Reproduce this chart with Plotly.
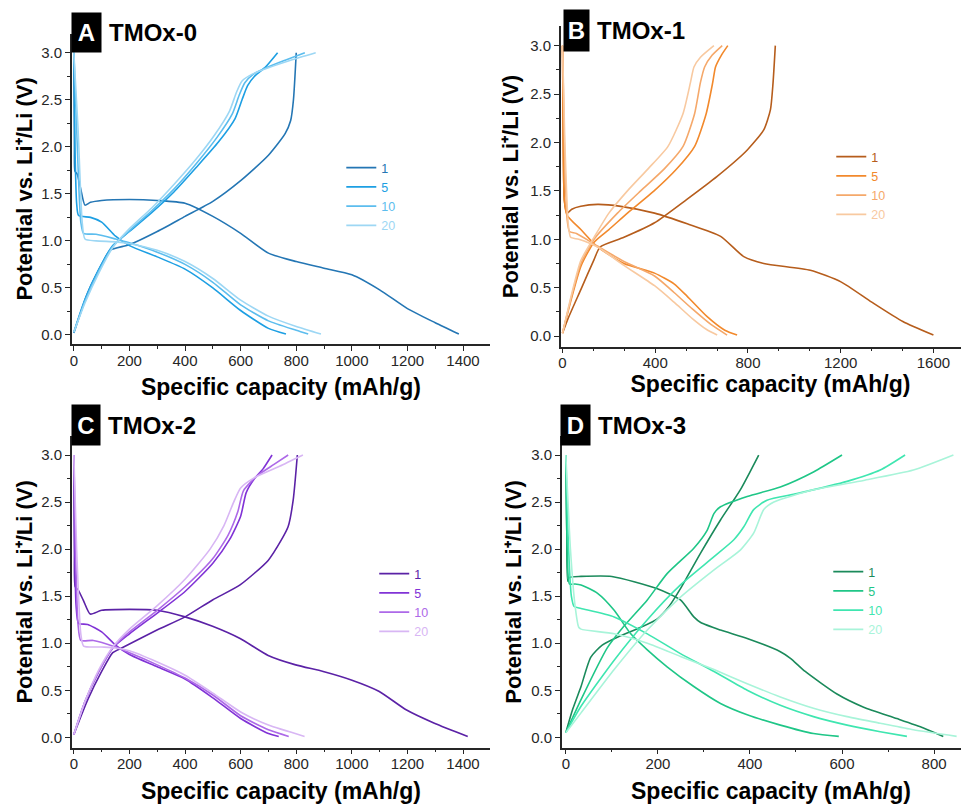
import plotly.graph_objects as go

W, H = 962, 807

# ---------------- data (capacity mAh/g, potential V) ----------------
cycles = ["1", "5", "10", "20"]

# Panel A : TMOx-0
A1_dis_q = [0, 2, 4, 12, 25, 40, 60, 100, 200, 300, 400, 500, 600, 700, 800, 900, 1000, 1100, 1200, 1300, 1385]
A1_dis_v = [3.0, 2.0, 1.74, 1.71, 1.55, 1.38, 1.41, 1.43, 1.44, 1.43, 1.40, 1.26, 1.08, 0.87, 0.78, 0.71, 0.64, 0.48, 0.28, 0.13, 0.01]
A1_chg_q = [0, 20, 50, 100, 130, 200, 300, 400, 500, 600, 700, 760, 780, 790, 800]
A1_chg_v = [0.02, 0.2, 0.45, 0.75, 0.9, 0.96, 1.10, 1.26, 1.42, 1.64, 1.91, 2.14, 2.28, 2.5, 3.0]
A5_dis_q = [0, 4, 10, 17, 60, 100, 150, 200, 300, 400, 500, 600, 700, 763]
A5_dis_v = [3.0, 2.0, 1.4, 1.27, 1.25, 1.2, 1.05, 0.95, 0.83, 0.7, 0.5, 0.26, 0.07, 0.01]
A5_chg_q = [0, 40, 90, 140, 200, 280, 360, 440, 520, 580, 605, 625, 650, 690, 733]
A5_chg_v = [0.03, 0.38, 0.7, 0.95, 1.1, 1.3, 1.52, 1.78, 2.05, 2.3, 2.5, 2.65, 2.75, 2.85, 3.0]
A10_dis_q = [0, 10, 25, 35, 80, 150, 200, 300, 400, 500, 600, 700, 800, 843]
A10_dis_v = [3.0, 2.2, 1.2, 1.08, 1.07, 1.02, 0.98, 0.88, 0.75, 0.56, 0.32, 0.15, 0.05, 0.01]
A10_chg_q = [0, 40, 90, 140, 200, 280, 360, 440, 515, 570, 595, 615, 645, 700, 760, 831]
A10_chg_v = [0.03, 0.36, 0.68, 0.94, 1.11, 1.32, 1.55, 1.82, 2.1, 2.35, 2.55, 2.68, 2.77, 2.85, 2.92, 3.0]
A20_dis_q = [0, 15, 30, 40, 80, 150, 200, 300, 400, 500, 600, 700, 800, 889]
A20_dis_v = [3.0, 2.2, 1.2, 1.02, 1.0, 0.99, 0.97, 0.9, 0.78, 0.6, 0.37, 0.2, 0.09, 0.01]
A20_chg_q = [0, 40, 90, 140, 200, 280, 360, 440, 505, 560, 585, 605, 640, 700, 780, 870]
A20_chg_v = [0.03, 0.34, 0.66, 0.93, 1.13, 1.35, 1.6, 1.87, 2.12, 2.38, 2.58, 2.7, 2.77, 2.84, 2.92, 3.0]

# Panel B : TMOx-1
B1_dis_q = [0, 3, 8, 19, 40, 79, 151, 251, 397, 538, 682, 782, 868, 1069, 1201, 1334, 1468, 1600]
B1_dis_v = [3.0, 2.0, 1.4, 1.27, 1.31, 1.34, 1.36, 1.34, 1.27, 1.16, 1.03, 0.82, 0.75, 0.68, 0.56, 0.35, 0.15, 0.01]
B1_chg_q = [0, 22, 79, 136, 162, 265, 397, 535, 667, 796, 868, 897, 908, 918]
B1_chg_v = [0.03, 0.17, 0.48, 0.79, 0.92, 1.02, 1.17, 1.41, 1.65, 1.92, 2.13, 2.34, 2.61, 3.0]
B5_dis_q = [0, 3, 8, 19, 79, 151, 265, 397, 481, 538, 624, 700, 753]
B5_dis_v = [3.0, 2.0, 1.4, 1.25, 1.1, 0.92, 0.75, 0.65, 0.54, 0.41, 0.2, 0.06, 0.01]
B5_chg_q = [0, 40, 79, 136, 200, 280, 395, 490, 570, 620, 648, 660, 685, 713]
B5_chg_v = [0.03, 0.4, 0.72, 0.97, 1.1, 1.27, 1.5, 1.72, 1.96, 2.3, 2.62, 2.78, 2.9, 3.0]
B10_dis_q = [0, 8, 20, 30, 60, 151, 265, 397, 481, 560, 640, 710]
B10_dis_v = [3.0, 2.0, 1.2, 1.08, 1.06, 0.93, 0.77, 0.62, 0.45, 0.28, 0.12, 0.01]
B10_chg_q = [0, 40, 79, 136, 237, 337, 440, 520, 570, 595, 613, 645, 689]
B10_chg_v = [0.03, 0.42, 0.75, 1.0, 1.27, 1.5, 1.73, 1.96, 2.3, 2.62, 2.78, 2.9, 3.0]
B20_dis_q = [0, 10, 25, 35, 70, 151, 265, 397, 481, 560, 620, 667]
B20_dis_v = [3.0, 2.0, 1.15, 1.02, 1.0, 0.92, 0.73, 0.52, 0.35, 0.18, 0.07, 0.01]
B20_chg_q = [0, 40, 79, 136, 200, 280, 370, 455, 520, 552, 567, 595, 653]
B20_chg_v = [0.03, 0.44, 0.78, 1.02, 1.27, 1.5, 1.73, 1.96, 2.3, 2.62, 2.78, 2.88, 3.0]

# Panel C : TMOx-2
C1_dis_q = [0, 2, 5, 15, 35, 59, 100, 200, 299, 400, 499, 598, 699, 798, 897, 998, 1097, 1197, 1297, 1417]
C1_dis_v = [3.0, 2.0, 1.6, 1.57, 1.45, 1.31, 1.35, 1.36, 1.35, 1.28, 1.18, 1.05, 0.87, 0.77, 0.70, 0.61, 0.49, 0.29, 0.15, 0.01]
C1_chg_q = [0, 50, 100, 140, 172, 299, 400, 499, 598, 699, 747, 771, 789, 804]
C1_chg_v = [0.03, 0.4, 0.7, 0.9, 0.95, 1.14, 1.28, 1.46, 1.62, 1.88, 2.1, 2.24, 2.52, 3.0]
C5_dis_q = [0, 3, 8, 17, 50, 100, 150, 200, 300, 400, 500, 600, 700, 737]
C5_dis_v = [3.0, 2.0, 1.4, 1.21, 1.2, 1.12, 0.98, 0.88, 0.75, 0.62, 0.42, 0.2, 0.04, 0.01]
C5_chg_q = [0, 40, 90, 140, 200, 300, 400, 500, 560, 600, 620, 650, 680, 713]
C5_chg_v = [0.03, 0.38, 0.7, 0.95, 1.1, 1.32, 1.55, 1.85, 2.1, 2.35, 2.6, 2.75, 2.85, 3.0]
C10_dis_q = [0, 6, 15, 25, 70, 150, 200, 300, 400, 500, 600, 700, 773]
C10_dis_v = [3.0, 2.0, 1.2, 1.03, 1.03, 0.96, 0.9, 0.77, 0.63, 0.45, 0.23, 0.08, 0.01]
C10_chg_q = [0, 40, 90, 140, 200, 300, 400, 500, 555, 590, 610, 660, 720, 771]
C10_chg_v = [0.03, 0.38, 0.7, 0.95, 1.12, 1.35, 1.6, 1.9, 2.15, 2.4, 2.62, 2.78, 2.9, 3.0]
C20_dis_q = [0, 10, 25, 35, 100, 150, 200, 300, 400, 500, 600, 700, 830]
C20_dis_v = [3.0, 2.0, 1.1, 0.97, 0.96, 0.95, 0.92, 0.8, 0.66, 0.47, 0.27, 0.13, 0.01]
C20_chg_q = [0, 40, 90, 140, 200, 300, 400, 490, 540, 575, 600, 650, 740, 824]
C20_chg_v = [0.03, 0.38, 0.72, 0.96, 1.15, 1.4, 1.68, 2.0, 2.25, 2.5, 2.65, 2.76, 2.88, 3.0]

# Panel D : TMOx-3
D1_dis_q = [0, 2, 4, 8, 33, 100, 199, 249, 278, 293, 336, 394, 466, 488, 520, 589, 647, 719, 777, 820]
D1_dis_v = [3.0, 2.2, 1.66, 1.7, 1.71, 1.71, 1.58, 1.46, 1.28, 1.22, 1.14, 1.05, 0.91, 0.84, 0.7, 0.46, 0.32, 0.2, 0.1, 0.01]
D1_chg_q = [0, 15, 33, 54, 79, 119, 163, 199, 224, 249, 293, 336, 379, 419]
D1_chg_v = [0.05, 0.3, 0.54, 0.85, 0.98, 1.08, 1.17, 1.26, 1.39, 1.58, 1.96, 2.31, 2.63, 3.0]
D5_dis_q = [0, 3, 8, 20, 33, 69, 105, 141, 177, 220, 278, 336, 394, 466, 538, 593]
D5_dis_v = [3.0, 2.0, 1.63, 1.63, 1.62, 1.53, 1.35, 1.1, 0.93, 0.75, 0.54, 0.36, 0.24, 0.13, 0.04, 0.01]
D5_chg_q = [0, 33, 90, 126, 177, 220, 278, 307, 322, 336, 394, 466, 538, 600]
D5_chg_v = [0.05, 0.4, 0.95, 1.18, 1.46, 1.74, 2.01, 2.2, 2.38, 2.45, 2.56, 2.66, 2.82, 3.0]
D10_dis_q = [0, 6, 12, 18, 33, 105, 177, 249, 322, 394, 466, 538, 611, 683, 741]
D10_dis_v = [3.0, 2.0, 1.5, 1.39, 1.37, 1.28, 1.1, 0.89, 0.7, 0.5, 0.34, 0.22, 0.13, 0.06, 0.01]
D10_chg_q = [0, 33, 105, 177, 249, 322, 365, 387, 408, 437, 502, 611, 683, 737]
D10_chg_v = [0.05, 0.33, 0.82, 1.25, 1.62, 1.92, 2.1, 2.24, 2.42, 2.52, 2.59, 2.72, 2.84, 3.0]
D20_dis_q = [0, 10, 20, 28, 33, 105, 177, 249, 322, 394, 466, 538, 611, 683, 755, 849]
D20_dis_v = [3.0, 2.0, 1.4, 1.17, 1.15, 1.1, 1.0, 0.86, 0.72, 0.57, 0.43, 0.31, 0.22, 0.15, 0.08, 0.01]
D20_chg_q = [0, 33, 105, 177, 249, 322, 379, 408, 430, 452, 538, 647, 755, 842]
D20_chg_v = [0.05, 0.26, 0.72, 1.14, 1.49, 1.78, 1.99, 2.17, 2.42, 2.5, 2.63, 2.73, 2.84, 3.0]

colors_A = ["#2476b4", "#1d9fe3", "#5cbdee", "#9dd7f4"]
colors_B = ["#b65d1c", "#f2892c", "#f5a86a", "#f8c9a0"]
colors_C = ["#5b22a6", "#8133d6", "#ad69e8", "#d8b6f4"]
colors_D = ["#1b8a5b", "#1fc687", "#3fe6b0", "#a8f4d9"]

panel_titles = ["TMOx-0", "TMOx-1", "TMOx-2", "TMOx-3"]
panel_letters = ["A", "B", "C", "D"]
x_title = "Specific capacity (mAh/g)"
y_title = "Potential vs. Li\u207a/Li (V)"

curves = {
    "A": [(A1_dis_q, A1_dis_v, A1_chg_q, A1_chg_v), (A5_dis_q, A5_dis_v, A5_chg_q, A5_chg_v),
          (A10_dis_q, A10_dis_v, A10_chg_q, A10_chg_v), (A20_dis_q, A20_dis_v, A20_chg_q, A20_chg_v)],
    "B": [(B1_dis_q, B1_dis_v, B1_chg_q, B1_chg_v), (B5_dis_q, B5_dis_v, B5_chg_q, B5_chg_v),
          (B10_dis_q, B10_dis_v, B10_chg_q, B10_chg_v), (B20_dis_q, B20_dis_v, B20_chg_q, B20_chg_v)],
    "C": [(C1_dis_q, C1_dis_v, C1_chg_q, C1_chg_v), (C5_dis_q, C5_dis_v, C5_chg_q, C5_chg_v),
          (C10_dis_q, C10_dis_v, C10_chg_q, C10_chg_v), (C20_dis_q, C20_dis_v, C20_chg_q, C20_chg_v)],
    "D": [(D1_dis_q, D1_dis_v, D1_chg_q, D1_chg_v), (D5_dis_q, D5_dis_v, D5_chg_q, D5_chg_v),
          (D10_dis_q, D10_dis_v, D10_chg_q, D10_chg_v), (D20_dis_q, D20_dis_v, D20_chg_q, D20_chg_v)],
}
palette = {"A": colors_A, "B": colors_B, "C": colors_C, "D": colors_D}

# ---------------- layout geometry (pixels) ----------------
def px(x):
    return x / W

def py(y):
    return 1 - y / H

geom = {
    "A": dict(xd=(70, 489), yd=(33.9, 344.0), xr=(-7.2, 1497), yr=(-0.096, 3.2), dtick=200, minor=100,
              xs=11, ys=3, xpad=""),
    "B": dict(xd=(560, 961), yd=(26.3, 346.7), xr=(-7.3, 1719), yr=(-0.11, 3.2), dtick=400, minor=400 / 3,
              xs=5, ys=6, xpad="&nbsp;&nbsp;&nbsp;"),
    "C": dict(xd=(70, 489), yd=(436.2, 747.7), xr=(-7.2, 1497), yr=(-0.11, 3.2), dtick=200, minor=100,
              xs=11, ys=3, xpad=""),
    "D": dict(xd=(561, 961), yd=(436.2, 747.7), xr=(-8.7, 858.5), yr=(-0.11, 3.2), dtick=200, minor=100,
              xs=11, ys=4, xpad="&nbsp;&nbsp;&nbsp;"),
}
legend_pos = {"A": (340, 153), "B": (831, 142), "C": (373, 559), "D": (828, 557)}
box_pos = {"A": (70, 99, 13, 52), "B": (563, 588, 10, 51), "C": (70, 98, 405, 445), "D": (560, 589, 405, 445)}

FONT = "Liberation Sans, Arial, sans-serif"
AX = "#262626"

fig = go.Figure()
layout = dict(
    width=W, height=H, margin=dict(l=0, r=0, t=0, b=0),
    paper_bgcolor="white", plot_bgcolor="white",
    font=dict(family=FONT, color=AX), showlegend=True,
)
annotations = []

for i, key in enumerate(["A", "B", "C", "D"]):
    n = "" if i == 0 else str(i + 1)
    g = geom[key]
    lg = "legend" if i == 0 else f"legend{i + 1}"
    for j, (dq, dv, cq, cv) in enumerate(curves[key]):
        col = palette[key][j]
        fig.add_trace(go.Scatter(
            x=list(dq) + [None] + list(cq), y=list(dv) + [None] + list(cv),
            mode="lines", line=dict(color=col, width=1.6, shape="spline", smoothing=0.6),
            name=f'<span style="color:{col}">{cycles[j]}</span>',
            xaxis="x" + n, yaxis="y" + n, legend=lg, connectgaps=False,
        ))
    common = dict(showline=True, linecolor=AX, linewidth=1.5, ticks="outside", ticklen=5,
                  tickwidth=1.2, tickcolor=AX, showgrid=False, zeroline=False,
                  tickfont=dict(size=15, color=AX, family=FONT))
    layout["xaxis" + n] = dict(common, domain=[px(g["xd"][0]), px(g["xd"][1])], range=list(g["xr"]),
                               anchor="y" + n, dtick=g["dtick"], tick0=0, ticklabelstandoff=-3,
                               title=dict(text=f"{g['xpad']}<b>{x_title}</b>", standoff=g["xs"],
                                          font=dict(size=23, color="black", family=FONT)),
                               minor=dict(ticks="outside", dtick=g["minor"], tick0=0, ticklen=3,
                                          tickcolor=AX, tickwidth=1.2))
    layout["yaxis" + n] = dict(common, domain=[py(g["yd"][1]), py(g["yd"][0])], range=list(g["yr"]),
                               anchor="x" + n, dtick=0.5, tick0=0, tickformat=".1f",
                               title=dict(text=f"<b>{y_title}</b>", standoff=g["ys"],
                                          font=dict(size=22, color="black", family=FONT)),
                               minor=dict(ticks="outside", dtick=0.25, tick0=0, ticklen=3,
                                          tickcolor=AX, tickwidth=1.2))
    lx, ly = legend_pos[key]
    layout[lg] = dict(x=px(lx), y=py(ly), xanchor="left", yanchor="top", bgcolor="rgba(0,0,0,0)",
                      font=dict(size=12.5, family=FONT), itemwidth=30, tracegroupgap=0,
                      borderwidth=0)
    # panel label box + title
    x0, x1, y0, y1 = box_pos[key]
    annotations.append(dict(text=f"<b>{panel_letters[i]}</b>", x=px((x0 + x1) / 2), y=py((y0 + y1) / 2),
                            xref="paper", yref="paper", xanchor="center", yanchor="middle",
                            showarrow=False, bgcolor="black", width=x1 - x0, height=y1 - y0,
                            borderpad=0, font=dict(size=24, color="white", family=FONT)))
    annotations.append(dict(text=f"<b>{panel_titles[i]}</b>", x=px(x1 + 6), y=py((y0 + y1) / 2),
                            xref="paper", yref="paper", xanchor="left", yanchor="middle",
                            showarrow=False, font=dict(size=24, color="black", family=FONT)))

layout["annotations"] = annotations
fig.update_layout(**layout)
fig.write_html("out.html")
